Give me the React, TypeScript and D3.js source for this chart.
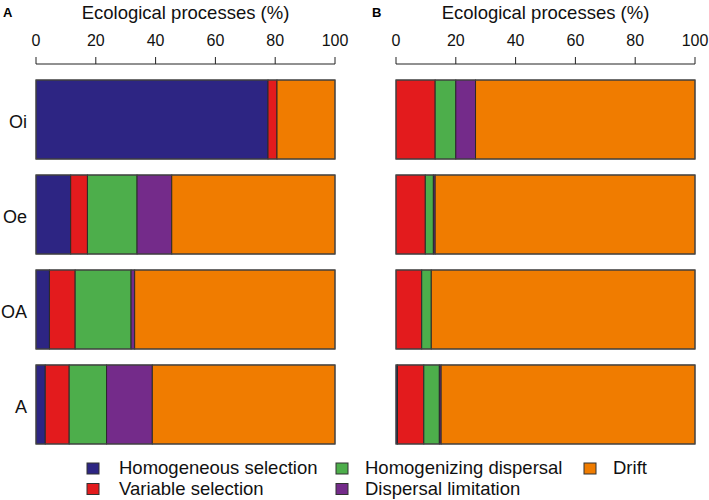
import React from "react";
import * as d3 from "d3";

const categories = ["Oi", "Oe", "OA", "A"];
const processes = [
  "Homogeneous selection",
  "Variable selection",
  "Homogenizing dispersal",
  "Dispersal limitation",
  "Drift",
];
const colors = ["#2D2583", "#E31B1D", "#4DAE4B", "#742B8A", "#F07C00"];
const ticks = [0, 20, 40, 60, 80, 100];

// Panel A values (%), per category Oi, Oe, OA, A
const aHomogeneousSelection = [77.6, 11.6, 4.5, 3.1];
const aVariableSelection = [3.0, 5.6, 8.6, 8.0];
const aHomogenizingDispersal = [0, 16.6, 18.7, 12.5];
const aDispersalLimitation = [0, 11.6, 1.2, 15.3];
const aDrift = [19.4, 54.6, 67.0, 61.1];

// Panel B values (%)
const bHomogeneousSelection = [0, 0, 0, 0.5];
const bVariableSelection = [13.1, 9.8, 8.6, 8.8];
const bHomogenizingDispersal = [6.9, 2.7, 3.2, 5.2];
const bDispersalLimitation = [6.6, 0.6, 0, 0.6];
const bDrift = [73.4, 86.9, 88.2, 84.9];

const panelA = [aHomogeneousSelection, aVariableSelection, aHomogenizingDispersal, aDispersalLimitation, aDrift];
const panelB = [bHomogeneousSelection, bVariableSelection, bHomogenizingDispersal, bDispersalLimitation, bDrift];

const FONT = "'Liberation Sans', Arial, Helvetica, sans-serif";

function Panel({ series, x0, letter, letterX, showLabels }: { series: number[][]; x0: number; letter: string; letterX: number; showLabels: boolean }) {
  const x = d3.scaleLinear().domain([0, 100]).range([x0, x0 + 299]);
  const y = d3.scaleBand<string>().domain(categories).range([80, 444]).paddingInner(0.168).paddingOuter(0);
  const rows = categories.map((c, i) => {
    const obj: any = { cat: c };
    processes.forEach((p, k) => (obj[p] = series[k][i]));
    return obj;
  });
  const stacked = d3.stack<any>().keys(processes)(rows);
  const axisY = 64;
  return (
    <g>
      <text x={letterX} y={17} fontFamily={FONT} fontWeight="bold" fontSize={13} fill="#000">
        {letter}
      </text>
      <text x={(x.range()[0] + x.range()[1]) / 2} y={18.5} textAnchor="middle" fontFamily={FONT} fontSize={18.5} fill="#111">
        Ecological processes (%)
      </text>
      <line x1={x(0)} x2={x(100)} y1={axisY} y2={axisY} stroke="#222" strokeWidth={1} />
      {ticks.map((t) => (
        <g key={t}>
          <line x1={x(t)} x2={x(t)} y1={axisY} y2={axisY - 7} stroke="#222" strokeWidth={1} />
          <text x={x(t)} y={45.5} textAnchor="middle" fontFamily={FONT} fontSize={16} fill="#111">
            {t}
          </text>
        </g>
      ))}
      {stacked.map((layer, k) => (
        <g key={processes[k]}>
          {layer.map((d, i) =>
            d[1] - d[0] > 0 ? (
              <rect
                key={i}
                x={x(d[0])}
                y={y(categories[i])!}
                width={x(d[1]) - x(d[0])}
                height={y.bandwidth()}
                fill={colors[k]}
                stroke="#2a2a2a"
                strokeWidth={1}
              />
            ) : null
          )}
        </g>
      ))}
      {categories.map((c) => (
        <rect key={c} x={x(0)} y={y(c)!} width={x(100) - x(0)} height={y.bandwidth()} fill="none" stroke="#4a4a4a" strokeWidth={1} />
      ))}
      {showLabels &&
        categories.map((c) => (
          <text key={c} x={27} y={y(c)! + y.bandwidth() / 2 + 8.5} textAnchor="end" fontFamily={FONT} fontSize={18} fill="#111">
            {c}
          </text>
        ))}
    </g>
  );
}

const legendLayout = [
  { k: 0, x: 87, tx: 119, row: 0 },
  { k: 2, x: 336, tx: 365, row: 0 },
  { k: 4, x: 584, tx: 613, row: 0 },
  { k: 1, x: 87, tx: 119, row: 1 },
  { k: 3, x: 336, tx: 365, row: 1 },
];

export default function App() {
  return (
    <svg width={709} height={500} style={{ position: "absolute", left: 0, top: 0, background: "#fff" }}>
      <rect width={709} height={500} fill="#fff" />
      <Panel series={panelA} x0={36} letter="A" letterX={3} showLabels={true} />
      <Panel series={panelB} x0={396} letter="B" letterX={372} showLabels={false} />
      {legendLayout.map(({ k, x, tx, row }) => (
        <g key={k}>
          <rect x={x} y={463 + row * 20.5} width={12} height={11} fill={colors[k]} stroke="#333" strokeWidth={1} />
          <text x={tx} y={474 + row * 20.5} fontFamily={FONT} fontSize={18.5} fill="#111">
            {processes[k]}
          </text>
        </g>
      ))}
    </svg>
  );
}
